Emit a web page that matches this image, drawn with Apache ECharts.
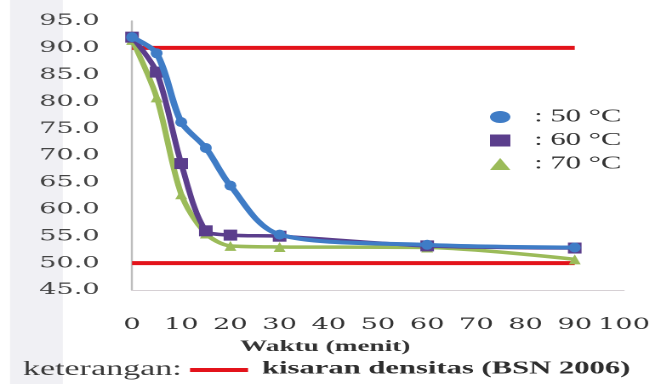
<!DOCTYPE html>
<html>
<head>
<meta charset="utf-8">
<script src="https://cdn.jsdelivr.net/npm/echarts@6/dist/echarts.min.js"></script>
<style>
html,body{margin:0;padding:0;background:#fff;}
#wrap{width:655px;height:384px;overflow:hidden;position:relative;}
#chart{width:385px;height:384px;transform:scaleX(1.7013);transform-origin:0 0;}
</style>
</head>
<body>
<div id="wrap"><div id="chart"></div></div>
<script>
// Data
const time = [0, 5, 10, 15, 20, 30, 60, 90];
const t50 = [92.0, 89.0, 76.2, 71.4, 64.4, 55.3, 53.4, 52.9];
const t60 = [92.0, 85.5, 68.5, 56.0, 55.2, 55.0, 53.2, 52.8];
const t70 = [91.5, 80.8, 62.8, 55.5, 53.2, 53.0, 52.9, 50.7];
const seriesNames = ['50 °C', '60 °C', '70 °C'];
const limitX = [0, 90];
const upperLimit = 90;
const lowerLimit = 50;
const yTicks = [45, 50, 55, 60, 65, 70, 75, 80, 85, 90, 95];
const xTicks = [0, 10, 20, 30, 40, 50, 60, 70, 80, 90, 100];

const pairs = (xs, ys) => xs.map((x, i) => [x, ys[i]]);
const SERIF = 'Liberation Serif';
const WIDE = 'DejaVu Serif';

const chart = echarts.init(document.getElementById('chart'), null, {devicePixelRatio: 2});
chart.setOption({
  animation: false,
  backgroundColor: '#ffffff',
  textStyle: {fontFamily: SERIF},
  grid: {left: 77.6, right: 16.5, top: 21, bottom: 94},
  xAxis: {
    type: 'value',
    min: xTicks[0], max: xTicks[xTicks.length - 1], interval: 10,
    name: 'Waktu (menit)',
    nameLocation: 'middle',
    nameGap: 49,
    nameTextStyle: {fontFamily: SERIF, fontWeight: 'bold', fontSize: 16, color: '#333', padding: [0, 62, 0, 0]},
    axisLine: {show: true, lineStyle: {color: '#d6d0d4', width: 1}},
    axisTick: {show: false},
    splitLine: {show: false},
    axisLabel: {fontFamily: WIDE, fontSize: 16, color: '#333', margin: 27}
  },
  yAxis: {
    type: 'value',
    min: yTicks[0], max: yTicks[yTicks.length - 1], interval: 5,
    axisLine: {show: true, lineStyle: {color: '#bdbdbd', width: 1.2}},
    axisTick: {show: false},
    splitLine: {show: false},
    axisLabel: {fontFamily: WIDE, fontSize: 16, color: '#444', margin: 19, formatter: v => v.toFixed(1)}
  },
  legend: {
    orient: 'vertical',
    left: 283, top: 102,
    itemWidth: 12, itemHeight: 12, itemGap: 3.5,
    data: [
      {name: seriesNames[0], icon: 'circle'},
      {name: seriesNames[1], icon: 'rect'},
      {name: seriesNames[2], icon: 'triangle'}
    ],
    lineStyle: {opacity: 0},
    formatter: ': {name}',
    textStyle: {fontFamily: SERIF, fontSize: 18, lineHeight: 20, color: '#333', padding: [0, 0, 0, 9]}
  },
  graphic: [
    {type: 'rect', z: -10, silent: true, shape: {x: 5.9, y: 0, width: 31, height: 384}, style: {fill: '#f0f0f4'}},
    {type: 'text', left: 13.5, top: 359.5, style: {text: 'keterangan:', font: '20px "Liberation Serif"', fill: '#3a3a3a'}},
    {type: 'line', shape: {x1: 111.7, y1: 370, x2: 145.8, y2: 370}, style: {stroke: '#e3131b', lineWidth: 4}},
    {type: 'text', left: 154, top: 360, style: {text: 'kisaran densitas (BSN 2006)', font: 'bold 18px "Liberation Serif"', fill: '#2e2e2e'}}
  ],
  series: [
    {
      name: 'upper', type: 'line', data: pairs(limitX, [upperLimit, upperLimit]),
      symbol: 'none', lineStyle: {color: '#e3131b', width: 4}, z: 1, legendHoverLink: false
    },
    {
      name: 'lower', type: 'line', data: pairs(limitX, [lowerLimit, lowerLimit]),
      symbol: 'none', lineStyle: {color: '#e3131b', width: 4}, z: 1, legendHoverLink: false
    },
    {
      name: seriesNames[2], type: 'line', data: pairs(time, t70), smooth: 0.3,
      symbol: 'triangle', symbolSize: [7, 10],
      lineStyle: {color: '#9bbb59', width: 3.5}, itemStyle: {color: '#9bbb59'}, z: 3
    },
    {
      name: seriesNames[1], type: 'line', data: pairs(time, t60), smooth: 0.3,
      symbol: 'rect', symbolSize: [8, 11],
      lineStyle: {color: '#5b3e8c', width: 3.5}, itemStyle: {color: '#5b3e8c'}, z: 4
    },
    {
      name: seriesNames[0], type: 'line', data: pairs(time, t50), smooth: 0.3,
      symbol: 'circle', symbolSize: [7, 10],
      lineStyle: {color: '#3f7cc6', width: 4}, itemStyle: {color: '#3f7cc6'}, z: 5
    }
  ]
});
</script>
</body>
</html>
